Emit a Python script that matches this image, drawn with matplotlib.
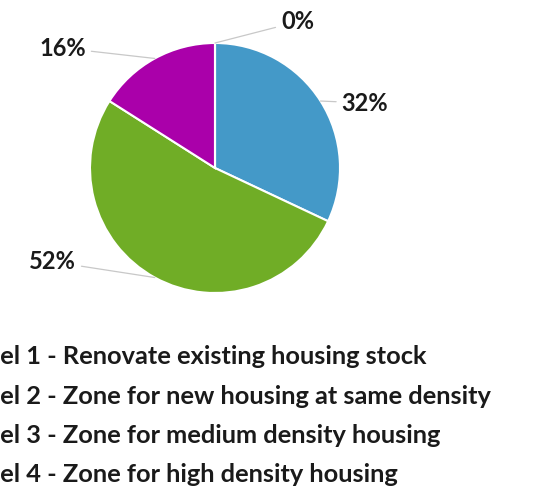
import matplotlib.pyplot as plt
import numpy as np

# porcentajes por nivel (sentido horario desde arriba)
shares = [32, 52, 16, 0]
pct_labels = ["32%", "52%", "16%", "0%"]
legend_labels = [
    "Level 1 - Renovate existing housing stock",
    "Level 2 - Zone for new housing at same density",
    "Level 3 - Zone for medium density housing",
    "Level 4 - Zone for high density housing",
]
colors = ["#4499C8", "#70AD26", "#AA00AA", "#E8A33A"]

fig = plt.figure(figsize=(5.4, 4.9), dpi=100)
W, H = 540, 490

# pie: center at (215,168) px from top-left, radius 125 px
ax = fig.add_axes([65 / W, (490 - 168 - 150) / H, 300 / W, 300 / H])

wedges, _ = ax.pie(shares, colors=colors, startangle=90, counterclock=False,
                   radius=1.0, wedgeprops=dict(edgecolor="white", linewidth=1.5))
ax.set_xlim(-1.2, 1.2)
ax.set_ylim(-1.2, 1.2)
ax.axis("off")

# label positions (data units)
label_pos = [(1.20, 0.52), (-1.30, -0.75), (-1.22, 0.96), (0.66, 1.17)]
for w, lab, pos in zip(wedges, pct_labels, label_pos):
    ang = np.deg2rad((w.theta1 + w.theta2) / 2)
    edge = (np.cos(ang), np.sin(ang))
    ax.annotate(lab, xy=edge, xytext=pos, ha="center", va="center",
                fontsize=17, fontweight="bold", family="Lato", color="#1a1a1a",
                annotation_clip=False,
                arrowprops=dict(arrowstyle="-", color="#c8c8c8", lw=0.9,
                                shrinkA=2, shrinkB=0))

# legend text, cut off on the left like the original
fig.canvas.draw()
r = fig.canvas.get_renderer()
baselines = [364, 404, 443, 482]
fs = 18.3
for lab, yb in zip(legend_labels, baselines):
    probe = fig.text(0, 0, "Lev", fontsize=fs, fontweight="bold", family="Lato")
    wpx = probe.get_window_extent(r).width
    probe.remove()
    fig.text(-wpx / W, (H - yb) / H, lab, fontsize=fs, fontweight="bold",
             family="Lato", color="#1a1a1a", va="baseline", ha="left")

fig.savefig("out.png", dpi=100)
